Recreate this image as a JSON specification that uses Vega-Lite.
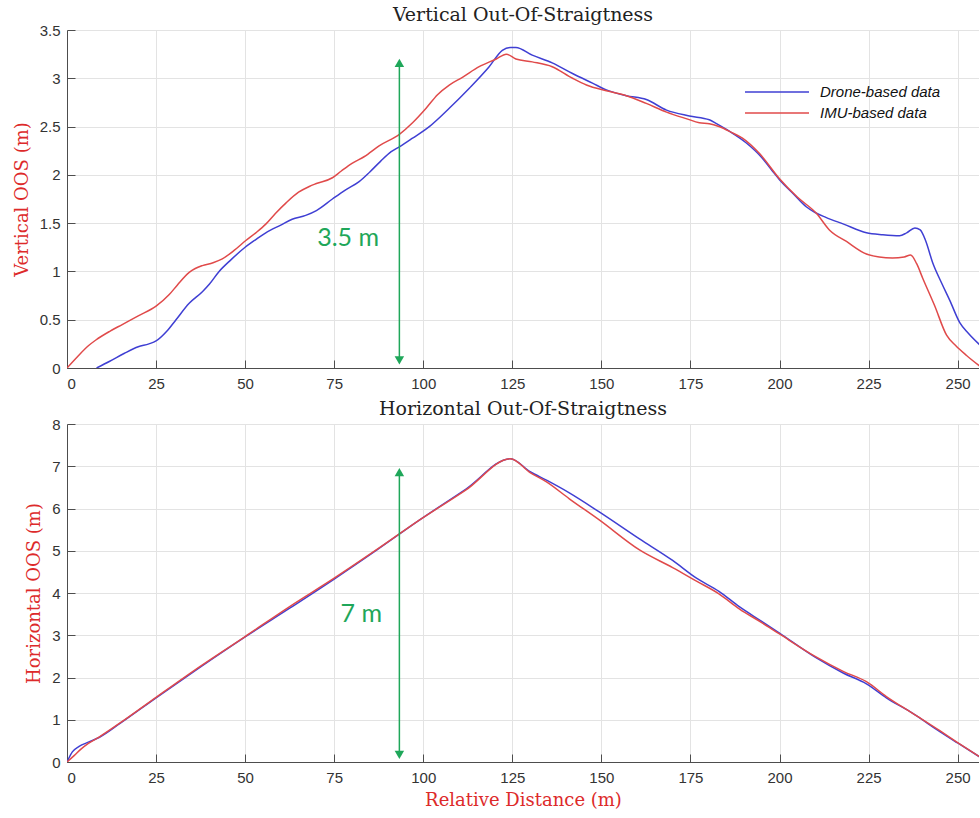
{
  "$schema": "https://vega.github.io/schema/vega-lite/v6.json",
  "background": "white",
  "padding": {"left": 13, "top": 6, "right": 0, "bottom": 4},
  "autosize": {"type": "pad"},
  "spacing": 56,
  "bounds": "flush",
  "config": {
    "view": {"stroke": null},
    "axis": {
      "domainColor": "#4d4d4d",
      "tickColor": "#4d4d4d",
      "tickSize": -8,
      "labelFont": "Liberation Sans",
      "labelFontSize": 15,
      "labelColor": "#333333",
      "gridColor": "#e3e3e3",
      "titleFont": "DejaVu Serif",
      "titleFontSize": 18,
      "titleFontWeight": "normal",
      "titleColor": "#dd2a2a"
    },
    "axisX": {"labelPadding": 16},
    "axisY": {"labelPadding": 15},
    "title": {"font": "DejaVu Serif", "fontSize": 19, "fontWeight": "normal", "color": "#222222", "offset": -2}
  },
  "datasets": {
    "vertical": [
      {"d": 8.3, "oos": 0, "source": "Drone-based data"},
      {"d": 12, "oos": 0.07, "source": "Drone-based data"},
      {"d": 16, "oos": 0.15, "source": "Drone-based data"},
      {"d": 20, "oos": 0.22, "source": "Drone-based data"},
      {"d": 23, "oos": 0.25, "source": "Drone-based data"},
      {"d": 25, "oos": 0.28, "source": "Drone-based data"},
      {"d": 28, "oos": 0.38, "source": "Drone-based data"},
      {"d": 30.6, "oos": 0.5, "source": "Drone-based data"},
      {"d": 34.3, "oos": 0.67, "source": "Drone-based data"},
      {"d": 38, "oos": 0.79, "source": "Drone-based data"},
      {"d": 40, "oos": 0.87, "source": "Drone-based data"},
      {"d": 42.7, "oos": 1.0, "source": "Drone-based data"},
      {"d": 46, "oos": 1.12, "source": "Drone-based data"},
      {"d": 50, "oos": 1.25, "source": "Drone-based data"},
      {"d": 53, "oos": 1.33, "source": "Drone-based data"},
      {"d": 55.8, "oos": 1.4, "source": "Drone-based data"},
      {"d": 60, "oos": 1.48, "source": "Drone-based data"},
      {"d": 63.2, "oos": 1.54, "source": "Drone-based data"},
      {"d": 67, "oos": 1.58, "source": "Drone-based data"},
      {"d": 70, "oos": 1.63, "source": "Drone-based data"},
      {"d": 74.5, "oos": 1.75, "source": "Drone-based data"},
      {"d": 78, "oos": 1.84, "source": "Drone-based data"},
      {"d": 82, "oos": 1.93, "source": "Drone-based data"},
      {"d": 85, "oos": 2.03, "source": "Drone-based data"},
      {"d": 88, "oos": 2.14, "source": "Drone-based data"},
      {"d": 91, "oos": 2.24, "source": "Drone-based data"},
      {"d": 93.3, "oos": 2.29, "source": "Drone-based data"},
      {"d": 97, "oos": 2.38, "source": "Drone-based data"},
      {"d": 101.7, "oos": 2.5, "source": "Drone-based data"},
      {"d": 107.3, "oos": 2.69, "source": "Drone-based data"},
      {"d": 113, "oos": 2.9, "source": "Drone-based data"},
      {"d": 118.5, "oos": 3.12, "source": "Drone-based data"},
      {"d": 122.2, "oos": 3.29, "source": "Drone-based data"},
      {"d": 124.5, "oos": 3.32, "source": "Drone-based data"},
      {"d": 126, "oos": 3.32, "source": "Drone-based data"},
      {"d": 130.6, "oos": 3.24, "source": "Drone-based data"},
      {"d": 136.2, "oos": 3.16, "source": "Drone-based data"},
      {"d": 141.9, "oos": 3.05, "source": "Drone-based data"},
      {"d": 147.5, "oos": 2.95, "source": "Drone-based data"},
      {"d": 151.4, "oos": 2.88, "source": "Drone-based data"},
      {"d": 157, "oos": 2.82, "source": "Drone-based data"},
      {"d": 162.6, "oos": 2.78, "source": "Drone-based data"},
      {"d": 168.3, "oos": 2.67, "source": "Drone-based data"},
      {"d": 174.7, "oos": 2.61, "source": "Drone-based data"},
      {"d": 180.3, "oos": 2.57, "source": "Drone-based data"},
      {"d": 182.3, "oos": 2.53, "source": "Drone-based data"},
      {"d": 186, "oos": 2.45, "source": "Drone-based data"},
      {"d": 190.7, "oos": 2.33, "source": "Drone-based data"},
      {"d": 195, "oos": 2.18, "source": "Drone-based data"},
      {"d": 198, "oos": 2.04, "source": "Drone-based data"},
      {"d": 200, "oos": 1.95, "source": "Drone-based data"},
      {"d": 204, "oos": 1.8, "source": "Drone-based data"},
      {"d": 207.5, "oos": 1.67, "source": "Drone-based data"},
      {"d": 210, "oos": 1.61, "source": "Drone-based data"},
      {"d": 213, "oos": 1.56, "source": "Drone-based data"},
      {"d": 218, "oos": 1.49, "source": "Drone-based data"},
      {"d": 224.4, "oos": 1.4, "source": "Drone-based data"},
      {"d": 229, "oos": 1.38, "source": "Drone-based data"},
      {"d": 233.7, "oos": 1.37, "source": "Drone-based data"},
      {"d": 235.7, "oos": 1.4, "source": "Drone-based data"},
      {"d": 238, "oos": 1.45, "source": "Drone-based data"},
      {"d": 239.5, "oos": 1.43, "source": "Drone-based data"},
      {"d": 241, "oos": 1.32, "source": "Drone-based data"},
      {"d": 243, "oos": 1.09, "source": "Drone-based data"},
      {"d": 245.5, "oos": 0.88, "source": "Drone-based data"},
      {"d": 247.8, "oos": 0.7, "source": "Drone-based data"},
      {"d": 250.6, "oos": 0.47, "source": "Drone-based data"},
      {"d": 253, "oos": 0.36, "source": "Drone-based data"},
      {"d": 256.2, "oos": 0.24, "source": "Drone-based data"},
      {"d": 0, "oos": 0, "source": "IMU-based data"},
      {"d": 3, "oos": 0.12, "source": "IMU-based data"},
      {"d": 6, "oos": 0.23, "source": "IMU-based data"},
      {"d": 8.1, "oos": 0.29, "source": "IMU-based data"},
      {"d": 12, "oos": 0.38, "source": "IMU-based data"},
      {"d": 15.5, "oos": 0.45, "source": "IMU-based data"},
      {"d": 20, "oos": 0.54, "source": "IMU-based data"},
      {"d": 25, "oos": 0.64, "source": "IMU-based data"},
      {"d": 28.7, "oos": 0.76, "source": "IMU-based data"},
      {"d": 31, "oos": 0.86, "source": "IMU-based data"},
      {"d": 34.3, "oos": 0.99, "source": "IMU-based data"},
      {"d": 36, "oos": 1.03, "source": "IMU-based data"},
      {"d": 38, "oos": 1.06, "source": "IMU-based data"},
      {"d": 41, "oos": 1.09, "source": "IMU-based data"},
      {"d": 43.6, "oos": 1.13, "source": "IMU-based data"},
      {"d": 47, "oos": 1.22, "source": "IMU-based data"},
      {"d": 50.2, "oos": 1.32, "source": "IMU-based data"},
      {"d": 53, "oos": 1.4, "source": "IMU-based data"},
      {"d": 55.8, "oos": 1.49, "source": "IMU-based data"},
      {"d": 58.5, "oos": 1.6, "source": "IMU-based data"},
      {"d": 61.5, "oos": 1.71, "source": "IMU-based data"},
      {"d": 65, "oos": 1.82, "source": "IMU-based data"},
      {"d": 68, "oos": 1.88, "source": "IMU-based data"},
      {"d": 70, "oos": 1.91, "source": "IMU-based data"},
      {"d": 74.5, "oos": 1.97, "source": "IMU-based data"},
      {"d": 77, "oos": 2.04, "source": "IMU-based data"},
      {"d": 80, "oos": 2.12, "source": "IMU-based data"},
      {"d": 83.5, "oos": 2.19, "source": "IMU-based data"},
      {"d": 87.6, "oos": 2.3, "source": "IMU-based data"},
      {"d": 93.3, "oos": 2.42, "source": "IMU-based data"},
      {"d": 97, "oos": 2.54, "source": "IMU-based data"},
      {"d": 100.8, "oos": 2.69, "source": "IMU-based data"},
      {"d": 104, "oos": 2.83, "source": "IMU-based data"},
      {"d": 107.3, "oos": 2.93, "source": "IMU-based data"},
      {"d": 111, "oos": 3.01, "source": "IMU-based data"},
      {"d": 115.7, "oos": 3.12, "source": "IMU-based data"},
      {"d": 120.5, "oos": 3.2, "source": "IMU-based data"},
      {"d": 123.3, "oos": 3.25, "source": "IMU-based data"},
      {"d": 126, "oos": 3.2, "source": "IMU-based data"},
      {"d": 130.6, "oos": 3.17, "source": "IMU-based data"},
      {"d": 136.2, "oos": 3.12, "source": "IMU-based data"},
      {"d": 141.9, "oos": 3.0, "source": "IMU-based data"},
      {"d": 145.8, "oos": 2.93, "source": "IMU-based data"},
      {"d": 151.4, "oos": 2.87, "source": "IMU-based data"},
      {"d": 157, "oos": 2.82, "source": "IMU-based data"},
      {"d": 162.6, "oos": 2.74, "source": "IMU-based data"},
      {"d": 168.3, "oos": 2.65, "source": "IMU-based data"},
      {"d": 174, "oos": 2.58, "source": "IMU-based data"},
      {"d": 177.5, "oos": 2.54, "source": "IMU-based data"},
      {"d": 180.3, "oos": 2.53, "source": "IMU-based data"},
      {"d": 183, "oos": 2.5, "source": "IMU-based data"},
      {"d": 186.5, "oos": 2.44, "source": "IMU-based data"},
      {"d": 189.6, "oos": 2.38, "source": "IMU-based data"},
      {"d": 194.4, "oos": 2.22, "source": "IMU-based data"},
      {"d": 200, "oos": 1.96, "source": "IMU-based data"},
      {"d": 205, "oos": 1.77, "source": "IMU-based data"},
      {"d": 210.4, "oos": 1.6, "source": "IMU-based data"},
      {"d": 214, "oos": 1.43, "source": "IMU-based data"},
      {"d": 218.8, "oos": 1.31, "source": "IMU-based data"},
      {"d": 224.4, "oos": 1.18, "source": "IMU-based data"},
      {"d": 228, "oos": 1.15, "source": "IMU-based data"},
      {"d": 231.7, "oos": 1.14, "source": "IMU-based data"},
      {"d": 235, "oos": 1.15, "source": "IMU-based data"},
      {"d": 236.8, "oos": 1.17, "source": "IMU-based data"},
      {"d": 238.5, "oos": 1.08, "source": "IMU-based data"},
      {"d": 240.2, "oos": 0.93, "source": "IMU-based data"},
      {"d": 243.5, "oos": 0.65, "source": "IMU-based data"},
      {"d": 246.9, "oos": 0.34, "source": "IMU-based data"},
      {"d": 249.5, "oos": 0.23, "source": "IMU-based data"},
      {"d": 252.5, "oos": 0.13, "source": "IMU-based data"},
      {"d": 256.2, "oos": 0.02, "source": "IMU-based data"}
    ],
    "horizontal": [
      {"d": 0, "oos": 0, "source": "Drone-based data"},
      {"d": 1.5, "oos": 0.24, "source": "Drone-based data"},
      {"d": 3.4, "oos": 0.37, "source": "Drone-based data"},
      {"d": 6, "oos": 0.47, "source": "Drone-based data"},
      {"d": 9, "oos": 0.58, "source": "Drone-based data"},
      {"d": 15, "oos": 0.92, "source": "Drone-based data"},
      {"d": 25, "oos": 1.52, "source": "Drone-based data"},
      {"d": 37.5, "oos": 2.25, "source": "Drone-based data"},
      {"d": 50, "oos": 2.96, "source": "Drone-based data"},
      {"d": 62.5, "oos": 3.64, "source": "Drone-based data"},
      {"d": 75, "oos": 4.33, "source": "Drone-based data"},
      {"d": 87, "oos": 5.02, "source": "Drone-based data"},
      {"d": 99, "oos": 5.73, "source": "Drone-based data"},
      {"d": 112, "oos": 6.46, "source": "Drone-based data"},
      {"d": 124.5, "oos": 7.18, "source": "Drone-based data"},
      {"d": 130, "oos": 6.87, "source": "Drone-based data"},
      {"d": 134.6, "oos": 6.67, "source": "Drone-based data"},
      {"d": 141, "oos": 6.37, "source": "Drone-based data"},
      {"d": 149.4, "oos": 5.92, "source": "Drone-based data"},
      {"d": 160.7, "oos": 5.28, "source": "Drone-based data"},
      {"d": 170, "oos": 4.77, "source": "Drone-based data"},
      {"d": 176.7, "oos": 4.35, "source": "Drone-based data"},
      {"d": 183, "oos": 4.04, "source": "Drone-based data"},
      {"d": 188.8, "oos": 3.67, "source": "Drone-based data"},
      {"d": 195, "oos": 3.33, "source": "Drone-based data"},
      {"d": 200, "oos": 3.05, "source": "Drone-based data"},
      {"d": 210, "oos": 2.48, "source": "Drone-based data"},
      {"d": 218, "oos": 2.1, "source": "Drone-based data"},
      {"d": 224.4, "oos": 1.85, "source": "Drone-based data"},
      {"d": 230, "oos": 1.52, "source": "Drone-based data"},
      {"d": 237.4, "oos": 1.15, "source": "Drone-based data"},
      {"d": 245, "oos": 0.72, "source": "Drone-based data"},
      {"d": 250, "oos": 0.45, "source": "Drone-based data"},
      {"d": 256.2, "oos": 0.12, "source": "Drone-based data"},
      {"d": 0, "oos": 0, "source": "IMU-based data"},
      {"d": 2, "oos": 0.15, "source": "IMU-based data"},
      {"d": 4, "oos": 0.31, "source": "IMU-based data"},
      {"d": 6, "oos": 0.44, "source": "IMU-based data"},
      {"d": 9, "oos": 0.59, "source": "IMU-based data"},
      {"d": 15, "oos": 0.93, "source": "IMU-based data"},
      {"d": 25, "oos": 1.53, "source": "IMU-based data"},
      {"d": 37.5, "oos": 2.27, "source": "IMU-based data"},
      {"d": 50, "oos": 2.97, "source": "IMU-based data"},
      {"d": 62.5, "oos": 3.68, "source": "IMU-based data"},
      {"d": 75, "oos": 4.35, "source": "IMU-based data"},
      {"d": 87, "oos": 5.03, "source": "IMU-based data"},
      {"d": 99, "oos": 5.73, "source": "IMU-based data"},
      {"d": 112, "oos": 6.44, "source": "IMU-based data"},
      {"d": 124.5, "oos": 7.18, "source": "IMU-based data"},
      {"d": 130, "oos": 6.85, "source": "IMU-based data"},
      {"d": 134.6, "oos": 6.63, "source": "IMU-based data"},
      {"d": 141, "oos": 6.23, "source": "IMU-based data"},
      {"d": 149.4, "oos": 5.73, "source": "IMU-based data"},
      {"d": 160.7, "oos": 5.02, "source": "IMU-based data"},
      {"d": 170, "oos": 4.6, "source": "IMU-based data"},
      {"d": 176.7, "oos": 4.28, "source": "IMU-based data"},
      {"d": 183, "oos": 3.98, "source": "IMU-based data"},
      {"d": 188.8, "oos": 3.62, "source": "IMU-based data"},
      {"d": 195, "oos": 3.3, "source": "IMU-based data"},
      {"d": 200, "oos": 3.03, "source": "IMU-based data"},
      {"d": 210, "oos": 2.5, "source": "IMU-based data"},
      {"d": 218, "oos": 2.14, "source": "IMU-based data"},
      {"d": 224.4, "oos": 1.9, "source": "IMU-based data"},
      {"d": 230, "oos": 1.55, "source": "IMU-based data"},
      {"d": 237.4, "oos": 1.15, "source": "IMU-based data"},
      {"d": 245, "oos": 0.74, "source": "IMU-based data"},
      {"d": 250, "oos": 0.46, "source": "IMU-based data"},
      {"d": 256.2, "oos": 0.12, "source": "IMU-based data"}
    ],
    "vArrow": [{"d": 93.3, "lo": 0.08, "hi": 3.16, "label": "3.5 m", "ld": 78.9, "lv": 1.35}],
    "hArrow": [{"d": 93.3, "lo": 0.17, "hi": 6.86, "label": "7 m", "ld": 82.6, "lv": 3.5}]
  },
  "vconcat": [
    {
      "width": 912,
      "height": 338,
      "title": "Vertical Out-Of-Straigtness",
      "layer": [
        {
          "data": {"name": "vertical"},
          "mark": {"type": "line", "strokeWidth": 1.5, "clip": true, "interpolate": "monotone"},
          "encoding": {
            "x": {"field": "d", "type": "quantitative", "scale": {"domain": [0, 256], "nice": false},
                  "axis": {"values": [0, 25, 50, 75, 100, 125, 150, 175, 200, 225, 250], "title": null}},
            "y": {"field": "oos", "type": "quantitative", "scale": {"domain": [0, 3.5], "nice": false},
                  "axis": {"values": [0, 0.5, 1, 1.5, 2, 2.5, 3, 3.5], "format": "~g", "title": "Vertical OOS (m)", "titlePadding": 8}},
            "color": {"field": "source", "type": "nominal",
                      "scale": {"domain": ["Drone-based data", "IMU-based data"], "range": ["#3f3fd3", "#e04a4a"]},
                      "legend": {"orient": "none", "legendX": 677, "legendY": 53, "title": null,
                                 "symbolType": "M-1,0H7", "symbolSize": 256, "symbolStrokeWidth": 1.5,
                                 "labelFont": "Liberation Sans",
                                 "labelFontStyle": "italic", "labelFontSize": 15, "labelColor": "#111111",
                                 "rowPadding": 4, "labelOffset": 58, "padding": 0}}
          }
        },
        {
          "data": {"name": "vArrow"},
          "mark": {"type": "rule", "color": "#1fa75a", "strokeWidth": 1.5},
          "encoding": {"x": {"field": "d", "type": "quantitative"}, "y": {"field": "lo", "type": "quantitative"}, "y2": {"field": "hi"}}
        },
        {
          "data": {"name": "vArrow"},
          "mark": {"type": "point", "shape": "triangle-up", "filled": true, "color": "#1fa75a", "size": 90, "opacity": 1},
          "encoding": {"x": {"field": "d", "type": "quantitative"}, "y": {"field": "hi", "type": "quantitative"}}
        },
        {
          "data": {"name": "vArrow"},
          "mark": {"type": "point", "shape": "triangle-down", "filled": true, "color": "#1fa75a", "size": 90, "opacity": 1},
          "encoding": {"x": {"field": "d", "type": "quantitative"}, "y": {"field": "lo", "type": "quantitative"}}
        },
        {
          "data": {"name": "vArrow"},
          "mark": {"type": "text", "font": "Lato", "fontSize": 25, "color": "#1fa75a"},
          "encoding": {"x": {"field": "ld", "type": "quantitative"}, "y": {"field": "lv", "type": "quantitative"}, "text": {"field": "label"}}
        }
      ]
    },
    {
      "width": 912,
      "height": 338,
      "title": "Horizontal Out-Of-Straigtness",
      "layer": [
        {
          "data": {"name": "horizontal"},
          "mark": {"type": "line", "strokeWidth": 1.5, "clip": true, "interpolate": "monotone"},
          "encoding": {
            "x": {"field": "d", "type": "quantitative", "scale": {"domain": [0, 256], "nice": false},
                  "axis": {"values": [0, 25, 50, 75, 100, 125, 150, 175, 200, 225, 250], "title": "Relative Distance (m)", "titlePadding": 6}},
            "y": {"field": "oos", "type": "quantitative", "scale": {"domain": [0, 8], "nice": false},
                  "axis": {"values": [0, 1, 2, 3, 4, 5, 6, 7, 8], "format": "~g", "title": "Horizontal OOS (m)", "titlePadding": 8}},
            "color": {"field": "source", "type": "nominal",
                      "scale": {"domain": ["Drone-based data", "IMU-based data"], "range": ["#3f3fd3", "#e04a4a"]},
                      "legend": null}
          }
        },
        {
          "data": {"name": "hArrow"},
          "mark": {"type": "rule", "color": "#1fa75a", "strokeWidth": 1.5},
          "encoding": {"x": {"field": "d", "type": "quantitative"}, "y": {"field": "lo", "type": "quantitative"}, "y2": {"field": "hi"}}
        },
        {
          "data": {"name": "hArrow"},
          "mark": {"type": "point", "shape": "triangle-up", "filled": true, "color": "#1fa75a", "size": 90, "opacity": 1},
          "encoding": {"x": {"field": "d", "type": "quantitative"}, "y": {"field": "hi", "type": "quantitative"}}
        },
        {
          "data": {"name": "hArrow"},
          "mark": {"type": "point", "shape": "triangle-down", "filled": true, "color": "#1fa75a", "size": 90, "opacity": 1},
          "encoding": {"x": {"field": "d", "type": "quantitative"}, "y": {"field": "lo", "type": "quantitative"}}
        },
        {
          "data": {"name": "hArrow"},
          "mark": {"type": "text", "font": "Lato", "fontSize": 25, "color": "#1fa75a"},
          "encoding": {"x": {"field": "ld", "type": "quantitative"}, "y": {"field": "lv", "type": "quantitative"}, "text": {"field": "label"}}
        }
      ]
    }
  ],
  "resolve": {"scale": {"color": "independent"}}
}
